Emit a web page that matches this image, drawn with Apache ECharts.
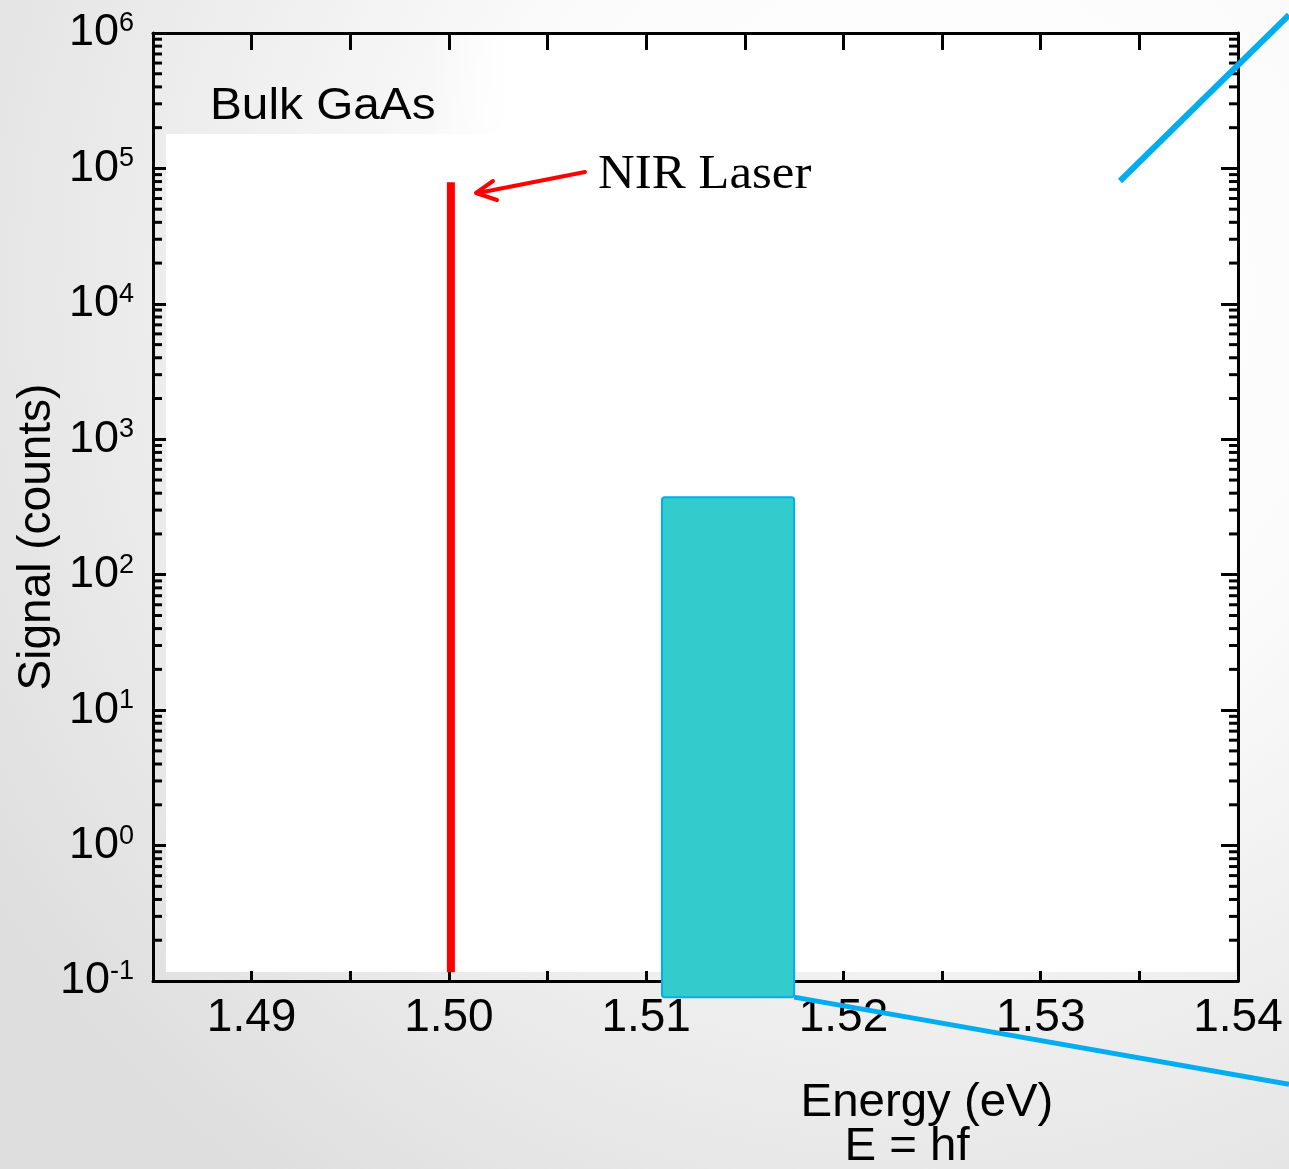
<!DOCTYPE html>
<html><head><meta charset="utf-8">
<script src="https://cdn.jsdelivr.net/npm/echarts@6/dist/echarts.min.js"></script>
<style>html,body{margin:0;padding:0;background:#fff;}#c{width:1289px;height:1169px;}</style>
</head><body><div id="c"></div>
<script>
// ---- data ----
const xRange = [1.485, 1.54];
const xLabelValues = [1.49, 1.50, 1.51, 1.52, 1.53, 1.54];
const yRange = [0.1, 1e6];
const yDecades = [-1, 0, 1, 2, 3, 4, 5, 6];
const minorMultipliers = [2, 3, 4, 5, 6, 7, 8, 9];
// NIR laser line: [energy eV, counts]
const laserLine = [[1.5001, 0.116], [1.5001, 79000]];
// emission band: [xStart, xEnd, yBottom, yTop]
const emissionBand = [[1.5108, 1.5175, 0.076, 374]];

const minorTicks = [];
for (const d of yDecades.slice(0, -1)) for (const m of minorMultipliers) minorTicks.push([m * Math.pow(10, d)]);

const FONT = '"Liberation Sans", Arial, sans-serif';
const chart = echarts.init(document.getElementById('c'));

const yLabel = {
  show: true, margin: 19, color: '#000',
  formatter: v => { const e = Math.round(Math.log10(v)); return '{b|10}{s|' + e + '}'; },
  rich: {
    b: { fontSize: 45, fontFamily: FONT, color: '#000', lineHeight: 46 },
    s: { fontSize: 27, fontFamily: FONT, color: '#000', lineHeight: 24, verticalAlign: 'top' }
  }
};
const axisLineStyle = { show: true, lineStyle: { color: '#000', width: 3 } };

function txt(text, x, y, font, align, sx, rot) {
  return { type: 'text', z: 5, x: x, y: y, scaleX: sx || 1, rotation: rot || 0,
    style: { text: text, x: 0, y: 0, font: font, fill: '#000', textAlign: align, textVerticalAlign: 'middle' } };
}

chart.setOption({
  backgroundColor: {
    type: 'radial', x: 0.72, y: 0.25, r: 0.95,
    colorStops: [{ offset: 0, color: '#ffffff' }, { offset: 0.4, color: '#fbfbfb' }, { offset: 1, color: '#dedede' }]
  },
  animation: false,
  grid: { left: 153, top: 33, right: 51, bottom: 188, containLabel: false },
  xAxis: [
    {
      type: 'value', position: 'bottom', min: xRange[0], max: xRange[1], interval: 0.005,
      axisLine: axisLineStyle, splitLine: { show: false },
      axisTick: { show: true, inside: true, length: 10, lineStyle: { color: '#000', width: 3 } },
      axisLabel: {
        interval: 0, margin: 14, color: '#000', fontSize: 46, fontFamily: FONT,
        formatter: v => (xLabelValues.some(t => Math.abs(t - v) < 1e-6) ? v.toFixed(2) : '')
      }
    },
    {
      type: 'value', position: 'top', min: xRange[0], max: xRange[1], interval: 0.005,
      axisLine: axisLineStyle, splitLine: { show: false },
      axisTick: { show: true, inside: true, length: 17, lineStyle: { color: '#000', width: 3 } },
      axisLabel: { show: false }
    }
  ],
  yAxis: [
    {
      type: 'log', logBase: 10, position: 'left', min: yRange[0], max: yRange[1], interval: 1,
      axisLine: axisLineStyle, splitLine: { show: false },
      axisTick: { show: true, inside: true, length: 13, lineStyle: { color: '#000', width: 3 } },
      axisLabel: yLabel
    },
    {
      type: 'log', logBase: 10, position: 'right', min: yRange[0], max: yRange[1], interval: 1,
      axisLine: axisLineStyle, splitLine: { show: false },
      axisTick: { show: true, inside: true, length: 17, lineStyle: { color: '#000', width: 3 } },
      axisLabel: { show: false }
    }
  ],
  graphic: [
    { type: 'rect', z: -10, silent: true, shape: { x: 166, y: 134, width: 1070, height: 838 }, style: { fill: '#ffffff' } },
    { type: 'rect', z: -10, silent: true, shape: { x: 430, y: 35, width: 806, height: 100 },
      style: { fill: { type: 'linear', x: 0, y: 0, x2: 1, y2: 0,
        colorStops: [{ offset: 0, color: 'rgba(255,255,255,0)' }, { offset: 0.1, color: '#ffffff' }, { offset: 1, color: '#ffffff' }] } } },
    txt('Bulk GaAs', 210, 107, '44px ' + FONT, 'left', 1.085),
    txt('NIR Laser', 598, 175, '48px "Liberation Serif", "Times New Roman", serif', 'left', 1.06),
    { type: 'polyline', z: 5, shape: { points: [[585, 172], [478, 193]] }, style: { stroke: '#ff0000', lineWidth: 4, lineCap: 'round' } },
    { type: 'polyline', z: 5, shape: { points: [[493, 181], [476, 193], [497, 200]] }, style: { stroke: '#ff0000', lineWidth: 4, lineCap: 'round', lineJoin: 'round', fill: null } },
    { type: 'polyline', z: 5, shape: { points: [[1120, 181], [1289, 15]] }, style: { stroke: '#00AEEF', lineWidth: 6 } },
    txt('Energy (eV)', 927, 1103, '46px ' + FONT, 'center', 1.03),
    txt('E = hf', 907, 1147, '46px ' + FONT, 'center', 1.03),
    txt('Signal (counts)', 37, 537, '46px ' + FONT, 'center', 1, Math.PI / 2)
  ],
  series: [
    {
      type: 'custom', name: 'minorTicks', xAxisIndex: 0, yAxisIndex: 0, silent: true, clip: false, z: 3,
      data: minorTicks,
      renderItem: (params, api) => {
        const v = api.value(0);
        const l = api.coord([xRange[0], v]);
        const r = api.coord([xRange[1], v]);
        return { type: 'group', children: [
          { type: 'line', shape: { x1: l[0], y1: l[1], x2: l[0] + 9, y2: l[1] }, style: { stroke: '#000', lineWidth: 3 } },
          { type: 'line', shape: { x1: r[0], y1: r[1], x2: r[0] - 9, y2: r[1] }, style: { stroke: '#000', lineWidth: 3 } }
        ] };
      }
    },
    {
      type: 'line', name: 'NIR Laser', xAxisIndex: 0, yAxisIndex: 0, data: laserLine,
      symbol: 'none', lineStyle: { color: '#ff0000', width: 8, cap: 'butt' }, z: 4
    },
    {
      type: 'custom', name: 'band', xAxisIndex: 0, yAxisIndex: 0, clip: false, z: 6,
      data: emissionBand,
      renderItem: (params, api) => {
        const p0 = api.coord([api.value(0), api.value(3)]);
        const p1 = api.coord([api.value(1), api.value(2)]);
        const W = api.getWidth();
        return { type: 'group', children: [
          { type: 'rect', shape: { x: p0[0], y: p0[1], width: p1[0] - p0[0], height: p1[1] - p0[1], r: 3 },
            style: { fill: '#33CCCC', stroke: '#00AEEF', lineWidth: 2 } },
          { type: 'line', shape: { x1: p1[0], y1: p1[1], x2: W, y2: p1[1] + 0.176 * (W - p1[0]) },
            style: { stroke: '#00AEEF', lineWidth: 5 } }
        ] };
      }
    }
  ]
});
</script>
</body></html>
